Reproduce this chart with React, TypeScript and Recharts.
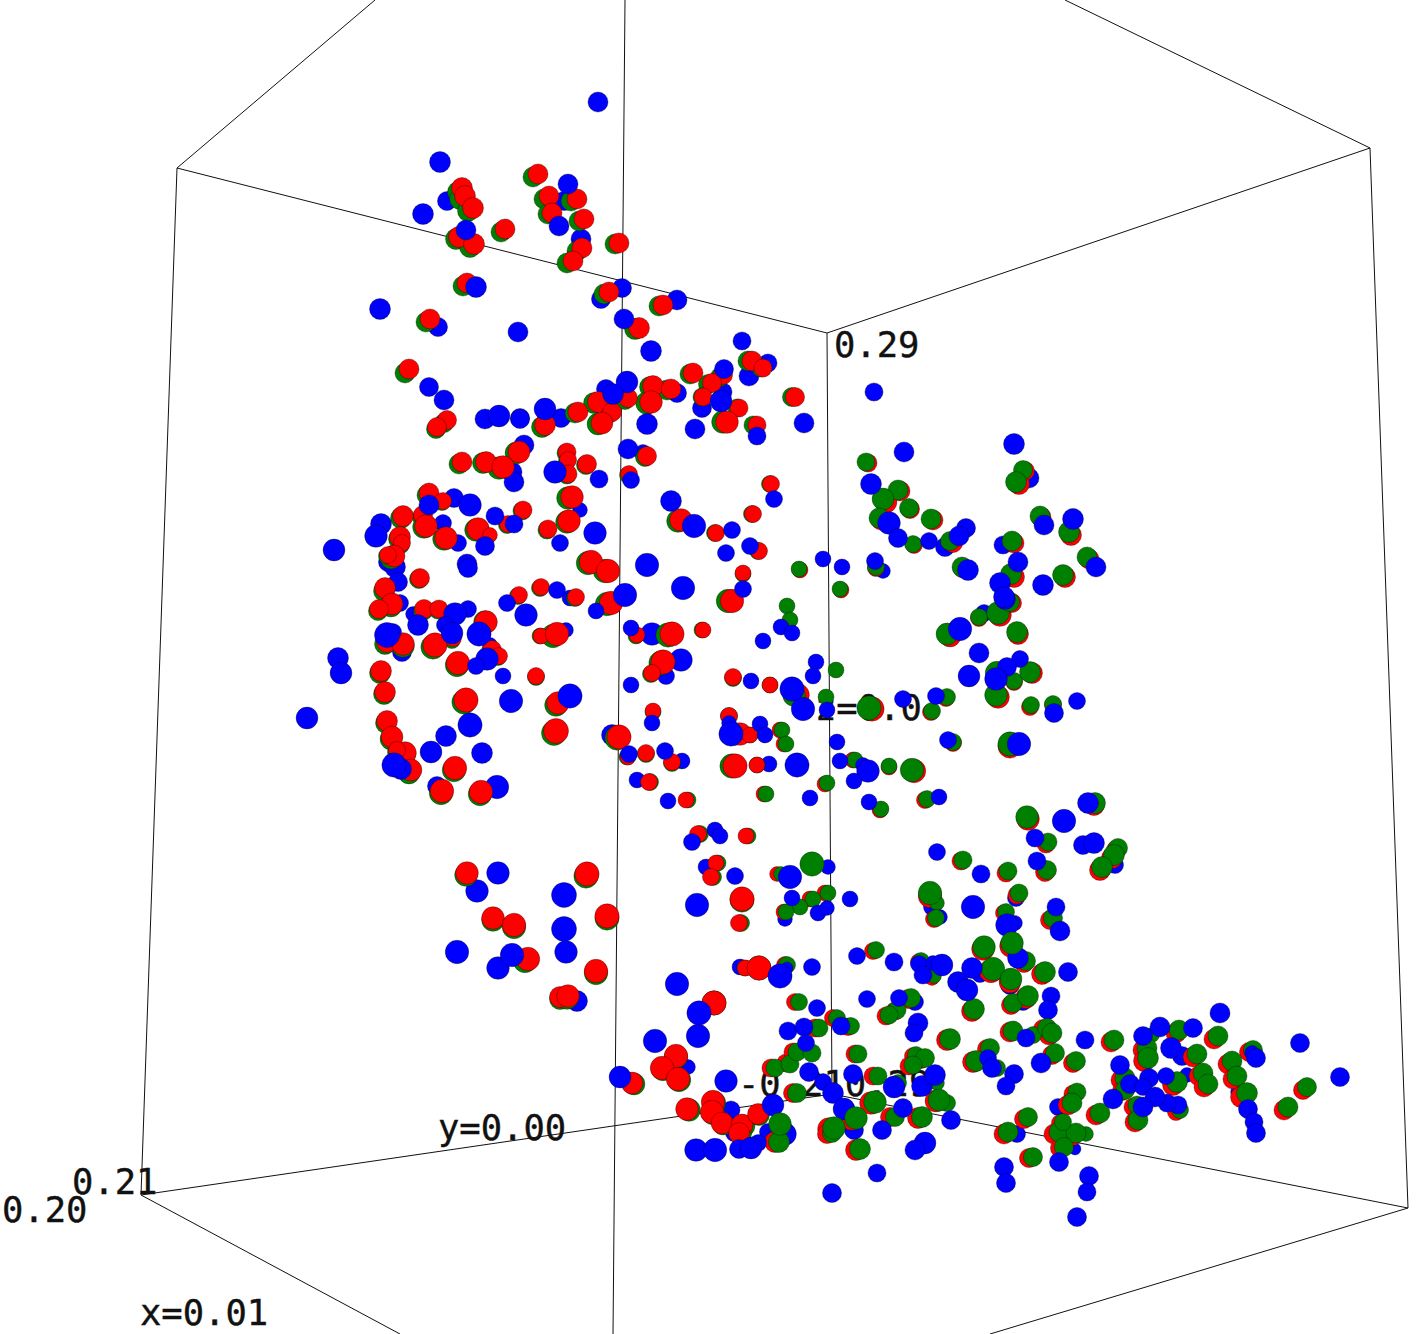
import { ScatterChart, Scatter, XAxis, YAxis, ZAxis } from 'recharts'

type Row = number[]

// box edges, [x, y] pairs in picture units
const edges: Row[][] = [
  [[177, 168], [375, 0]],
  [[177, 168], [827, 333]],
  [[177, 168], [141, 1195]],
  [[827, 333], [1370, 148]],
  [[827, 333], [832, 1094]],
  [[625, 0], [613, 1334]],
  [[1370, 148], [1408, 1208]],
  [[1065, 0], [1370, 148]],
  [[141, 1195], [400, 1334]],
  [[141, 1195], [832, 1094]],
  [[832, 1094], [1408, 1208]],
  [[990, 1334], [1408, 1208]],
]

const axisLabels = [
  { x: 834, y: 357, text: '0.29' },
  { x: 815, y: 720, text: 'z=0.0' },
  { x: 738, y: 1096, text: '-0.210.29' },
  { x: 438, y: 1140, text: 'y=0.00' },
  { x: 72, y: 1194, text: '0.21' },
  { x: 2, y: 1222, text: '0.20' },
  { x: 140, y: 1325, text: 'x=0.01' },
]

// blue points that sit behind the pairs
const blueBack: Row[] = [
  [447,201,9],[438,327,9],[564,201,9],[581,239,9.5],[622,288,9],[601,299,9],[677,300,9.5],[768,363,8.5],[723,392,8.5],[677,393,9],
  [606,389,9],[561,418,9],[520,418,9],[524,445,9.5],[512,472,9.5],[514,482,9.5],[454,498,9],[580,510,7],[443,523,8],[458,543,8],
  [388,562,9],[395,567,10],[398,582,9],[400,603,8],[413,614,7],[402,652,9],[570,598,7.5],[566,630,7],[468,609,8],[643,453,8],
  [437,786,9],[497,787,11.5],[490,645,7],[652,634,11],[612,735,10],[681,660,11],[666,676,8],[682,761,7.5],[769,764,7.5],[637,780,7.5],
  [749,376,9.5],[702,408,9],[577,1001,10],[688,1067,7],[731,1110,8.5],[734,1133,8],[768,1132,8],[785,1134,11],[740,967,7.5],[1003,545,8.5],
  [1029,478,9.5],[883,571,7],[932,907,8],[940,917,7],[1016,898,8],[1015,923,7],[1115,865,8],[1187,1075,7],[1182,1056,9],[945,547,9],
  [984,613,8],[980,974,8],[1010,985,9],[1023,1002,8],[915,1002,8],[477,891,11],[706,867,7.5],[828,867,7],[785,919,7],[854,1130,9],
  [1238,1092,7],[1058,1107,8],[1017,1134,8],[1075,1149,6],
]

const greenLeft: Row[] = [
  [458,192,10],[460,199,10],[468,211,10],[456,239,10],[470,247,10],[501,232,9.5],[463,286,9.5],[426,322,9.5],[533,177,9.5],[544,199,9.5],
  [571,201,9.5],[548,214,9.5],[579,221,9.5],[577,251,9.5],[567,263,9.5],[615,244,9.5],[604,294,9.5],[659,306,9.5],[635,329,10],[748,361,9.5],
  [761,368,8.5],[690,374,9.5],[720,377,9],[708,384,9],[702,397,8.5],[737,408,8.5],[723,422,11],[792,397,9],[753,425,8.5],[650,387,10],
  [667,390,9.5],[647,403,11],[625,400,9],[594,403,10],[610,413,9],[598,424,10.5],[575,413,9.5],[542,427,10],[405,373,9.5],[444,423,9],
  [436,429,9],[516,453,10.5],[459,464,9.5],[483,463,10],[499,468,11],[566,453,8.5],[567,461,8],[567,475,8.5],[586,465,9],[645,457,9],
  [628,475,8],[568,498,11],[567,522,11],[588,563,11.5],[605,571,11.5],[678,521,11],[715,533,8],[758,551,8],[752,514,8],[770,484,8],
  [743,574,7.5],[728,601,11.5],[607,604,11.5],[575,598,8],[427,495,9.5],[442,502,8],[522,511,8.5],[507,525,8],[547,530,8.5],[401,518,10],
  [422,517,9],[424,527,11],[399,539,10],[401,545,8],[444,539,11],[476,530,11],[489,536,7],[391,558,10.5],[387,556,8],[419,579,9],
  [384,591,10],[391,606,10.5],[378,611,9],[423,611,9],[438,610,8.5],[485,622,11],[452,640,8],[518,596,8],[540,588,8],[540,636,7.5],
  [553,636,11.5],[385,644,10],[403,646,11],[433,647,12],[380,673,10],[384,694,10],[457,665,11.5],[491,651,9],[498,657,8],[536,677,8],
  [464,702,12],[556,705,11],[386,723,10],[391,739,10.5],[404,755,11],[396,752,8],[409,773,10.5],[454,770,11.5],[441,793,11.5],[480,794,11.5],
  [554,733,12.5],[636,636,7.5],[668,635,12],[702,630,7.5],[661,663,12],[651,674,8],[653,712,7.5],[617,738,12],[627,757,7.5],[646,754,8],
  [672,763,8],[650,782,8],[688,800,7.5],[733,678,8],[770,685,7.5],[729,716,8],[735,734,11],[750,735,7.5],[732,766,12],[757,765,7.5],
  [466,875,11],[586,876,12],[607,918,12],[493,920,11],[514,927,11.5],[525,961,11.5],[596,973,11.5],[560,999,10],[567,998,11],[700,834,8],
  [748,836,7.5],[718,863,7.5],[713,877,8],[742,900,12],[741,923,8],[745,968,7.5],[759,968,12],[714,1003,12],[676,1057,11.5],[663,1069,11.5],
  [679,1080,11.5],[634,1084,10.5],[689,1110,11],[714,1103,11.5],[713,1113,11.5],[723,1124,10.5],[744,1126,10.5],[741,1134,10],[759,1115,10],
]

const redLeft: Row[] = [
  [462,188,10],[465,196,10],[473,208,10],[459,237,10],[474,244,10],[505,229,9.5],[467,283,9.5],[430,319,9.5],[538,174,9.5],[549,196,9.5],
  [577,199,9.5],[552,213,9.5],[584,219,9.5],[582,248,9.5],[573,261,9.5],[619,243,9.5],[609,292,9.5],[663,305,9.5],[639,328,10],[752,361,9.5],
  [763,368,8.5],[693,373,9.5],[723,375,9],[712,383,9],[703,397,8.5],[739,408,8.5],[727,422,11],[795,397,9],[757,425,8.5],[653,386,10],
  [671,389,9.5],[651,402,11],[628,398,9],[598,402,10],[612,412,9],[602,423,10.5],[578,412,9.5],[545,425,10],[409,369,9.5],[447,420,9],
  [437,427,9],[519,452,10.5],[462,462,9.5],[486,462,10],[503,467,11],[567,452,8.5],[568,460,8],[568,474,8.5],[587,464,9],[647,456,9],
  [629,474,8],[572,497,11],[569,521,11],[591,562,11.5],[608,571,11.5],[681,520,11],[716,533,8],[759,551,8],[753,514,8],[771,484,8],
  [743,573,7.5],[732,601,11.5],[611,603,11.5],[576,597,8],[429,493,9.5],[443,501,8],[523,510,8.5],[508,524,8],[548,529,8.5],[403,516,10],
  [423,515,9],[426,526,11],[400,537,10],[402,543,8],[446,538,11],[478,529,11],[490,535,7],[394,556,10.5],[388,555,8],[420,578,9],
  [385,588,10],[392,604,10.5],[379,609,9],[424,609,9],[439,609,8.5],[486,622,11],[453,638,8],[519,595,8],[541,587,8],[541,636,7.5],
  [557,634,11.5],[387,642,10],[403,644,11],[435,645,12],[381,671,10],[385,692,10],[458,663,11.5],[492,650,9],[499,656,8],[536,676,8],
  [466,700,12],[558,703,11],[387,721,10],[392,737,10.5],[405,753,11],[397,750,8],[411,770,10.5],[455,768,11.5],[442,791,11.5],[481,792,11.5],
  [556,731,12.5],[637,635,7.5],[672,634,12],[703,630,7.5],[663,662,12],[652,673,8],[653,711,7.5],[619,737,12],[628,757,7.5],[646,753,8],
  [672,762,8],[649,782,8],[686,800,7.5],[733,677,8],[770,685,7.5],[729,716,8],[740,734,11],[750,735,7.5],[735,766,12],[757,765,7.5],
  [467,873,11],[587,874,12],[607,916,12],[493,918,11],[514,925,11.5],[528,959,11.5],[596,971,11.5],[560,997,10],[568,996,11],[698,834,8],
  [746,836,7.5],[716,863,7.5],[711,877,8],[742,899,12],[739,923,8],[745,968,7.5],[759,968,12],[714,1003,12],[676,1056,11.5],[662,1068,11.5],
  [678,1079,11.5],[632,1083,10.5],[687,1109,11],[713,1102,11.5],[712,1112,11.5],[722,1123,10.5],[742,1125,10.5],[739,1133,10],[758,1114,10],
]

const redRight: Row[] = [
  [800,570,7.5],[798,695,11],[780,730,7.5],[784,744,7.5],[764,794,7.5],[825,784,7.5],[841,590,7.5],[853,760,7.5],[889,767,7.5],[914,771,11.5],
  [880,810,7.5],[925,800,8],[872,709,12],[946,698,8],[931,712,8],[953,743,8],[950,636,10.5],[979,618,8],[1000,615,11],[1018,634,10],
  [1012,603,9],[998,675,11.5],[1014,682,8],[1032,673,10],[998,697,11],[1030,707,8],[1053,705,8],[1010,746,12],[1028,819,11],[1094,805,10],
  [868,463,8.5],[900,491,9.5],[886,502,10.5],[910,509,9],[881,520,9.5],[933,520,9.5],[914,545,8],[953,543,9],[963,568,9.5],[876,568,8],
  [1025,471,9],[1019,484,10],[1041,517,9.5],[1071,535,10],[1014,543,9.5],[1089,559,9.5],[1014,577,10],[1065,577,10],[1046,844,8.5],[1116,850,9],
  [1112,858,10],[1100,870,10],[961,861,8.5],[1006,873,8.5],[1045,872,9],[930,896,11.5],[934,919,8],[1017,895,8.5],[1004,913,8],[1050,920,9],
  [983,949,11],[1011,946,11],[1024,963,9],[873,951,8],[919,962,8],[932,978,7],[991,971,11.5],[1010,982,10.5],[1042,974,10],[972,1011,10],
  [1011,1005,9],[1026,998,10],[908,999,9],[895,1011,8.5],[886,1016,8.5],[848,1026,7.5],[777,874,7],[810,899,7.5],[825,893,7.5],[784,912,7.5],
  [785,965,8],[795,1002,8],[815,1028,8.5],[833,1018,8],[848,1027,8],[771,1068,8.5],[786,1063,8.5],[793,1052,8.5],[793,1093,9],[947,1040,10],
  [855,1054,8.5],[873,1076,8.5],[913,1056,8],[921,1059,9],[909,1066,8.5],[871,1103,11],[936,1101,10.5],[890,1117,9],[918,1118,10],[852,1119,11],
  [829,1129,11],[827,1134,9],[856,1150,10],[775,1142,10],[973,1062,10],[987,1049,9],[1010,1032,9.5],[1043,1029,9],[1049,1035,9.5],[1052,1055,9],
  [1073,1063,9],[1111,1042,9.5],[1176,1033,9.5],[1214,1039,9.5],[1143,1050,9.5],[1144,1061,10],[1193,1057,9.5],[1121,1080,9.5],[1173,1085,10],[1199,1076,9.5],
  [1204,1087,9.5],[1228,1064,9.5],[1233,1079,9.5],[1249,1052,9],[1241,1097,10],[1284,1110,9.5],[1303,1090,9],[1096,1115,9.5],[1122,1091,9],[1133,1107,8.5],
  [1135,1122,9.5],[1176,1112,8],[1073,1094,8.5],[1068,1105,9.5],[1024,1119,9],[1004,1134,9.5],[1054,1134,9.5],[1072,1136,9.5],[1060,1148,9],[1029,1158,9],
  [1060,1123,8],
]

const greenRight: Row[] = [
  [799,569,7.5],[787,606,7.5],[790,620,7.5],[794,695,11],[826,697,7.5],[836,670,7.5],[782,730,7.5],[786,744,7.5],[766,794,7.5],[827,783,7.5],
  [840,589,7.5],[855,760,7.5],[889,766,7.5],[912,770,11.5],[881,809,7.5],[927,799,8],[869,708,12],[947,697,8],[932,711,8],[953,742,8],
  [947,634,10.5],[979,617,8],[998,613,11],[1017,632,10],[1010,602,9],[997,673,11.5],[1014,681,8],[1030,672,10],[996,695,11],[1031,705,8],
  [1053,704,8],[1010,744,12],[1027,817,11],[1095,803,10],[866,462,8.5],[898,490,9.5],[883,499,10.5],[909,508,9],[879,518,9.5],[931,519,9.5],
  [913,544,8],[950,541,9],[962,567,9.5],[876,567,8],[1023,470,9],[1016,482,10],[1040,516,9.5],[1069,532,10],[1012,541,9.5],[1087,557,9.5],
  [1011,574,10],[1063,575,10],[1048,842,8.5],[1118,848,9],[1114,855,10],[1102,867,10],[963,860,8.5],[1008,871,8.5],[1047,870,9],[937,903,7],
  [930,893,11.5],[936,918,8],[1019,893,8.5],[1006,912,8],[1053,918,9],[984,947,11],[1026,961,9],[876,950,8],[921,961,8],
  [934,976,7],[993,969,11.5],[1011,979,10.5],[1045,972,10],[974,1009,10],[1013,1003,9],[911,998,9],[897,1010,8.5],[889,1015,8.5],
  [850,1026,7.5],[812,864,12],[781,874,7],[813,899,7.5],[828,893,7.5],[800,907,7.5],[786,912,7.5],[787,965,8],[799,1002,8],[819,1028,8.5],
  [837,1018,8],[851,1026,8],[775,1068,8.5],[790,1064,8.5],[797,1052,8.5],[812,1053,8.5],[797,1093,9],[950,1039,10],[858,1054,8.5],[878,1076,8.5],
  [916,1055,8],[925,1058,9],[913,1065,8.5],[898,1083,8],[937,1083,7],[947,1103,8],[895,1117,9],
  [832,1133,9],[860,1149,10],[779,1142,10],[976,1061,10],[990,1048,9],[997,1068,8],[1013,1031,9.5],
  [1033,1035,8],[1055,1053,9],[1076,1061,9],[1114,1040,9.5],[1152,1035,7],[1179,1030,9.5],[1218,1036,9.5],[1147,1048,9.5],
  [1148,1058,10],[1197,1054,9.5],[1125,1078,9.5],[1177,1082,10],[1203,1073,9.5],[1208,1084,9.5],[1232,1061,9.5],[1237,1076,9.5],[1253,1050,9],[1247,1093,10],
  [1288,1107,9.5],[1307,1087,9],[1100,1113,9.5],[1125,1090,9],[1137,1105,8.5],[1138,1120,9.5],[1180,1110,8],[1077,1092,8.5],[1072,1103,9.5],[1028,1117,9],
  [1008,1132,9.5],[1086,1134,7],[1059,1132,9.5],[1076,1133,9.5],[1064,1147,9],[1033,1157,9],[1063,1122,8],
]

const blueFront: Row[] = [
  [440,162,10],[423,214,10],[466,230,9.5],[476,287,10],[380,309,10],[518,332,9.5],[568,184,9.5],[559,226,9.5],[598,102,9.5],[624,319,9.5],
  [651,351,10],[742,341,8.5],[724,369,9],[721,401,10.5],[804,423,9.5],[757,436,8.5],[695,429,9.5],[647,424,10],[627,382,10.5],[613,394,10],
  [545,409,10.5],[429,387,9],[444,400,9.5],[485,419,9.5],[499,416,10.5],[520,419,9],[555,472,11],[628,449,9.5],[631,480,8],[599,479,8.5],
  [595,533,11],[560,543,8],[647,565,11.5],[671,501,10],[694,526,11.5],[732,530,8],[726,553,8],[750,546,8],[774,499,8],[823,559,7.5],
  [842,567,7.5],[743,589,8],[683,588,11.5],[625,595,11.5],[596,611,7.5],[334,550,10.5],[429,505,9.5],[470,505,11],[495,516,8.5],[514,524,8.5],
  [381,524,10],[376,536,11],[485,546,9],[467,564,9.5],[468,568,9],[507,603,8],[526,615,11],[557,590,8],[455,614,11],[418,625,10],
  [445,625,8],[452,633,10.5],[479,634,12],[393,632,8],[387,635,12.5],[487,659,11],[476,666,8],[503,676,7.5],[511,701,11.5],[338,658,10],
  [341,673,10.5],[307,718,10.5],[401,769,10],[394,765,12],[446,736,10],[431,752,10.5],[470,725,12],[482,753,10],[570,696,12],[631,628,7.5],
  [631,685,7.5],[652,723,7.5],[629,754,8],[665,751,8],[668,801,7.5],[751,681,7.5],[803,709,11.5],[792,689,12],[816,662,7.5],[813,676,7.5],
  [781,627,7.5],[792,633,7.5],[763,641,7.5],[827,710,7.5],[729,723,7],[731,734,12],[760,724,7.5],[765,735,7.5],[797,765,12],[810,798,7.5],
  [837,742,7.5],[840,761,7.5],[863,765,7],[868,771,11],[854,781,7.5],[869,802,7.5],[939,797,7.5],[903,699,8],[936,696,8],[948,740,8],
  [979,653,9.5],[969,676,10.5],[960,629,11.5],[1005,599,10],[1020,659,8],[1007,667,9],[996,679,11],[1054,713,9],[1077,701,8],[1019,744,11.5],
  [1064,821,11.5],[1088,803,10],[874,392,8.5],[904,452,9.5],[871,484,10],[889,523,11],[898,538,9],[929,541,8],[966,528,9],[959,536,9.5],
  [968,570,10],[875,561,8],[1014,444,10],[1044,525,9.5],[1073,519,10],[1096,567,9.5],[1018,562,9.5],[1000,583,10],[1043,585,10],[1004,597,10],
  [1035,838,8.5],[1083,845,9],[1094,843,10],[937,852,8],[981,874,8.5],[1037,861,8.5],[850,899,7.5],[973,907,11.5],[1056,907,8.5],[1060,931,9.5],
  [1007,925,11],[1018,958,10],[857,956,8],[894,962,8.5],[919,964,8],[933,963,7],[942,965,10.5],[923,975,8.5],[972,968,10],[958,982,10],
  [967,990,10.5],[1068,972,9],[1051,996,8.5],[1048,1010,9],[867,999,8],[899,998,8],[918,1023,9.5],[914,1033,8.5],[498,873,11],[564,895,12.5],
  [564,929,12.5],[566,952,11],[457,952,11.5],[498,968,11],[512,955,11.5],[692,842,8],[715,830,7.5],[720,836,7.5],[735,876,8],[697,905,11.5],
  [790,877,11.5],[792,898,7.5],[818,913,7.5],[827,908,7],[787,968,6],[780,976,12],[812,967,8],[677,984,11.5],[699,1013,12],[817,1008,8],
  [698,1036,11.5],[655,1041,11.5],[620,1077,10.5],[726,1081,11],[773,1105,10.5],[696,1150,11],[715,1150,11.5],[758,1143,8],[739,1149,9],[751,1148,10.5],
  [788,1031,8.5],[804,1027,8.5],[806,1043,8],[841,1026,8.5],[809,1072,9],[823,1082,8],[833,1093,10],[853,1074,9],[894,1087,10.5],[922,1086,10],
  [935,1075,10],[844,1109,10.5],[903,1108,9],[951,1120,9],[882,1130,9],[925,1143,10.5],[915,1150,9.5],[877,1173,8.5],[832,1193,9],[988,1058,8],
  [992,1068,9],[1014,1074,9],[1006,1086,8.5],[1026,1038,8.5],[1041,1063,9.5],[1085,1040,8.5],[1143,1036,9],[1160,1027,9.5],[1193,1028,9],[1220,1013,9.5],
  [1300,1043,9],[1340,1077,9],[1171,1048,10],[1120,1065,9],[1149,1078,9],[1166,1076,8],[1130,1084,9],[1143,1087,8],[1252,1053,7],[1256,1058,9],
  [1248,1109,9],[1254,1122,8.5],[1256,1133,9],[1113,1099,9.5],[1178,1105,8.5],[1167,1103,8.5],[1155,1097,9.5],[1143,1107,9.5],[1059,1162,9],[1004,1167,9],
  [1006,1183,9],[1089,1176,9],[1087,1192,8.5],[1077,1217,9],
]

// green points that lie over the blue ones
const greenTop: Row[] = [
  [1012,943,11],[1028,996,10],[780,1124,11],[856,1118,11],[834,1128,11],[875,1102,11],[939,1100,10.5],[922,1117,10],[1047,1028,9],[1052,1033,9.5],
]

const toPoints = (rows: Row[]) => rows.map(([x, y, z]) => ({ x, y, z }))

const dotSeries = [
  { name: 'blueBack', rows: blueBack, fill: '#0000ff' },
  { name: 'greenLeft', rows: greenLeft, fill: '#008000' },
  { name: 'redLeft', rows: redLeft, fill: '#ff0000' },
  { name: 'redRight', rows: redRight, fill: '#ff0000' },
  { name: 'greenRight', rows: greenRight, fill: '#008000' },
  { name: 'blueFront', rows: blueFront, fill: '#0000ff' },
  { name: 'greenTop', rows: greenTop, fill: '#008000' },
]

function AxisText({ cx, cy, payload }: any) {
  return (
    <text x={cx} y={cy} fontFamily="'DejaVu Sans Mono', monospace" fontSize={35.5} fill="#111" stroke="#111" strokeWidth={0.4}>
      {payload.text}
    </text>
  )
}

export default function App() {
  return (
    <div style={{ position: 'absolute', left: 0, top: 0, width: 1416, height: 1334 }}>
      <ScatterChart width={1416} height={1334} margin={{ top: 0, right: 0, bottom: 0, left: 0 }}>
        <XAxis type="number" dataKey="x" domain={[0, 1416]} hide />
        <YAxis type="number" dataKey="y" domain={[0, 1334]} reversed hide />
        <ZAxis type="number" dataKey="z" domain={[6, 12.5]} range={[113, 491]} />
        {edges.map((edge, i) => (
          <Scatter
            key={i}
            data={edge.map(([x, y]) => ({ x, y, z: 6 }))}
            line={{ stroke: '#111', strokeWidth: 1 }}
            shape={() => <g />}
            isAnimationActive={false}
          />
        ))}
        <Scatter data={axisLabels} shape={AxisText} isAnimationActive={false} />
        {dotSeries.map((s) => (
          <Scatter
            key={s.name}
            name={s.name}
            data={toPoints(s.rows)}
            fill={s.fill}
            stroke="#000"
            strokeOpacity={0.55}
            strokeWidth={0.6}
            isAnimationActive={false}
          />
        ))}
      </ScatterChart>
    </div>
  )
}
